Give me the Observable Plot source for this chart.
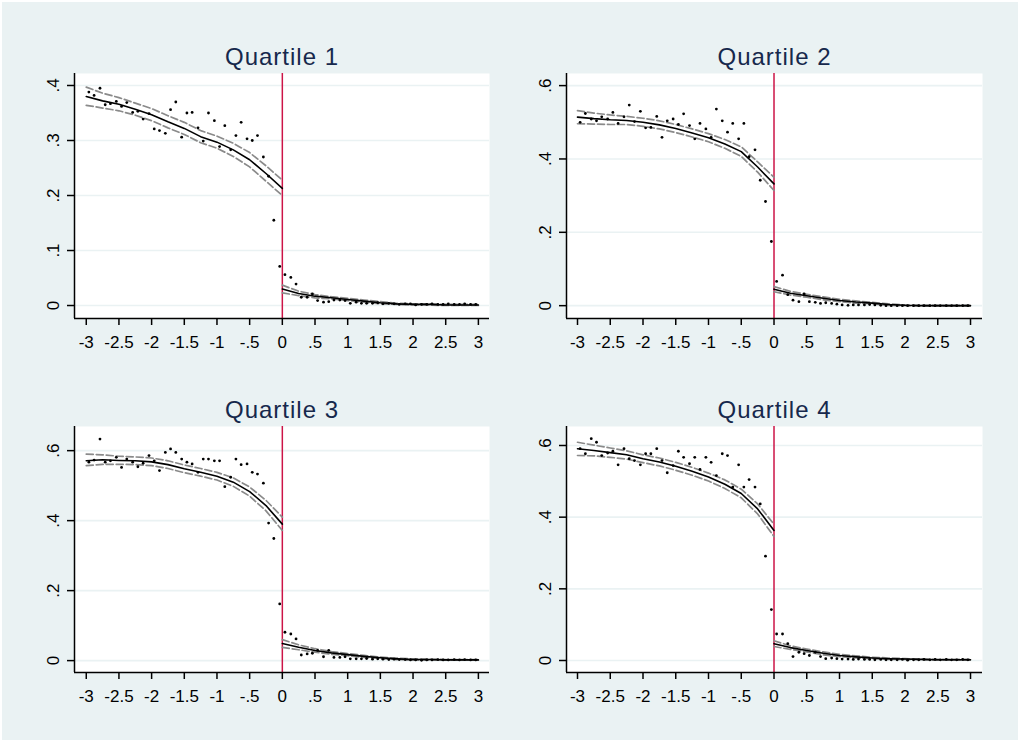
<!DOCTYPE html>
<html>
<head>
<meta charset="utf-8">
<script src="https://cdn.jsdelivr.net/npm/d3@7"></script>
<script src="https://cdn.jsdelivr.net/npm/@observablehq/plot@0.6"></script>
<style>
html, body { margin: 0; padding: 0; background: #ffffff; }
#page { position: relative; width: 1020px; height: 742px; background: #ffffff; overflow: hidden; }
#bg { position: absolute; left: 2px; top: 2px; right: 2px; bottom: 2px; background: #eaf2f3; }
.panel { position: absolute; }
</style>
</head>
<body>
<div id="page"><div id="bg"></div></div>
<script>
// ---------- data ----------
const titles = ["Quartile 1", "Quartile 2", "Quartile 3", "Quartile 4"];

const xTicks = [-3, -2.5, -2, -1.5, -1, -0.5, 0, 0.5, 1, 1.5, 2, 2.5, 3];
const xTickLabels = ["-3", "-2.5", "-2", "-1.5", "-1", "-.5", "0", ".5", "1", "1.5", "2", "2.5", "3"];

const yTicksQ1 = [0, 0.1, 0.2, 0.3, 0.4];
const yTickLabelsQ1 = ["0", ".1", ".2", ".3", ".4"];
const yTicksOther = [0, 0.2, 0.4, 0.6];
const yTickLabelsOther = ["0", ".2", ".4", ".6"];

// bin centres (scatter points)
const binsLeft = [-2.96, -2.88, -2.79, -2.71, -2.63, -2.54, -2.46, -2.38, -2.29, -2.21, -2.13, -2.04,
  -1.96, -1.88, -1.79, -1.71, -1.63, -1.54, -1.46, -1.38, -1.29, -1.21, -1.13, -1.04,
  -0.96, -0.88, -0.79, -0.71, -0.63, -0.54, -0.46, -0.38, -0.29, -0.21, -0.13, -0.04];
const binsRight = [0.04, 0.13, 0.21, 0.29, 0.38, 0.46, 0.54, 0.63, 0.71, 0.79, 0.88, 0.96,
  1.04, 1.13, 1.21, 1.29, 1.38, 1.46, 1.54, 1.63, 1.71, 1.79, 1.88, 1.96,
  2.04, 2.13, 2.21, 2.29, 2.38, 2.46, 2.54, 2.63, 2.71, 2.79, 2.88, 2.96];

const q1DotsL = [0.388, 0.382, 0.395, 0.365, 0.367, 0.371, 0.362, 0.369, 0.351, 0.353, 0.339, 0.349,
  0.321, 0.318, 0.313, 0.356, 0.370, 0.306, 0.350, 0.351, 0.323, 0.299, 0.350, 0.336,
  0.289, 0.327, 0.283, 0.309, 0.333, 0.303, 0.300, 0.309, 0.270, 0.235, 0.155, 0.071];
const q1DotsR = [0.056, 0.051, 0.039, 0.015, 0.015, 0.021, 0.009, 0.006, 0.007, 0.010, 0.010, 0.009,
  0.004, 0.006, 0.004, 0.004, 0.004, 0.005, 0.003, 0.004, 0.003, 0.002, 0.003, 0.003,
  0.001, 0.002, 0.002, 0.003, 0.002, 0.002, 0.003, 0.002, 0.002, 0.003, 0.002, 0.002];

const q2DotsL = [0.500, 0.524, 0.509, 0.504, 0.515, 0.509, 0.527, 0.497, 0.515, 0.547, 0.502, 0.530,
  0.485, 0.486, 0.516, 0.459, 0.504, 0.509, 0.494, 0.523, 0.491, 0.455, 0.497, 0.482,
  0.459, 0.536, 0.504, 0.473, 0.497, 0.455, 0.497, 0.406, 0.425, 0.342, 0.284, 0.175];
const q2DotsR = [0.066, 0.083, 0.030, 0.015, 0.011, 0.032, 0.011, 0.009, 0.006, 0.008, 0.006, 0.004,
  0.002, 0.001, 0.002, 0.002, 0.002, 0.003, 0.002, 0.001, 0.000, 0.000, 0.000, 0.000,
  0.000, 0.000, 0.000, 0.000, 0.000, 0.000, 0.000, 0.000, 0.000, 0.000, 0.000, 0.000];

const q3DotsL = [0.567, 0.573, 0.633, 0.567, 0.571, 0.581, 0.552, 0.576, 0.567, 0.554, 0.564, 0.586,
  0.571, 0.543, 0.595, 0.605, 0.595, 0.576, 0.567, 0.562, 0.538, 0.576, 0.576, 0.571,
  0.571, 0.497, 0.524, 0.576, 0.560, 0.562, 0.538, 0.533, 0.507, 0.393, 0.349, 0.162];
const q3DotsR = [0.081, 0.076, 0.062, 0.016, 0.019, 0.021, 0.029, 0.011, 0.029, 0.009, 0.009, 0.011,
  0.005, 0.005, 0.005, 0.006, 0.004, 0.005, 0.004, 0.003, 0.004, 0.003, 0.003, 0.002,
  0.002, 0.001, 0.002, 0.002, 0.003, 0.002, 0.002, 0.003, 0.002, 0.003, 0.002, 0.002];

const q4DotsL = [0.591, 0.577, 0.619, 0.609, 0.572, 0.579, 0.584, 0.546, 0.591, 0.563, 0.558, 0.546,
  0.577, 0.577, 0.591, 0.558, 0.524, 0.544, 0.584, 0.567, 0.549, 0.567, 0.533, 0.567,
  0.553, 0.516, 0.577, 0.572, 0.484, 0.546, 0.484, 0.505, 0.484, 0.437, 0.291, 0.142];
const q4DotsR = [0.074, 0.074, 0.047, 0.011, 0.023, 0.019, 0.014, 0.023, 0.011, 0.005, 0.007, 0.005,
  0.004, 0.004, 0.003, 0.004, 0.003, 0.003, 0.002, 0.003, 0.002, 0.002, 0.002, 0.003,
  0.001, 0.002, 0.002, 0.003, 0.002, 0.003, 0.002, 0.003, 0.002, 0.002, 0.003, 0.002];

// fitted local-polynomial lines and 95% bands
const gridLeft = [-3, -2.75, -2.5, -2.25, -2, -1.75, -1.5, -1.25, -1, -0.75, -0.5, -0.25, 0];
const gridRight = [0, 0.25, 0.5, 0.75, 1, 1.25, 1.5, 1.75, 2, 2.25, 2.5, 2.75, 3];

const q1FitL = [0.380, 0.372, 0.366, 0.357, 0.347, 0.334, 0.322, 0.307, 0.297, 0.283, 0.265, 0.240, 0.213];
const q1HiL  = [0.397, 0.386, 0.378, 0.368, 0.358, 0.345, 0.333, 0.318, 0.308, 0.295, 0.278, 0.254, 0.228];
const q1LoL  = [0.364, 0.359, 0.354, 0.346, 0.336, 0.323, 0.311, 0.296, 0.286, 0.271, 0.252, 0.226, 0.200];
const q1FitR = [0.030, 0.022, 0.017, 0.014, 0.011, 0.008, 0.005, 0.003, 0.002, 0.002, 0.001, 0.001, 0.001];
const q1HiR  = [0.037, 0.026, 0.020, 0.016, 0.013, 0.010, 0.007, 0.004, 0.003, 0.003, 0.002, 0.002, 0.002];
const q1LoR  = [0.023, 0.018, 0.014, 0.012, 0.009, 0.006, 0.003, 0.002, 0.001, 0.001, 0.000, 0.000, 0.000];

const q2FitL = [0.514, 0.510, 0.507, 0.505, 0.500, 0.493, 0.483, 0.471, 0.458, 0.441, 0.420, 0.378, 0.332];
const q2HiL  = [0.532, 0.525, 0.520, 0.516, 0.511, 0.504, 0.494, 0.482, 0.469, 0.453, 0.433, 0.392, 0.350];
const q2LoL  = [0.496, 0.495, 0.494, 0.494, 0.489, 0.482, 0.472, 0.460, 0.447, 0.429, 0.407, 0.364, 0.314];
const q2FitR = [0.045, 0.034, 0.027, 0.020, 0.014, 0.010, 0.007, 0.003, 0.001, 0.000, 0.000, 0.000, 0.000];
const q2HiR  = [0.052, 0.039, 0.031, 0.024, 0.017, 0.013, 0.009, 0.005, 0.002, 0.001, 0.001, 0.001, 0.001];
const q2LoR  = [0.038, 0.029, 0.023, 0.016, 0.011, 0.007, 0.005, 0.001, 0.000, -0.001, -0.001, -0.001, -0.001];

const q3FitL = [0.571, 0.574, 0.572, 0.571, 0.568, 0.560, 0.548, 0.538, 0.527, 0.510, 0.483, 0.443, 0.390];
const q3HiL  = [0.590, 0.588, 0.584, 0.582, 0.579, 0.571, 0.559, 0.549, 0.538, 0.522, 0.496, 0.458, 0.410];
const q3LoL  = [0.557, 0.561, 0.561, 0.560, 0.557, 0.549, 0.537, 0.527, 0.516, 0.498, 0.470, 0.428, 0.372];
const q3FitR = [0.049, 0.038, 0.029, 0.022, 0.017, 0.012, 0.008, 0.005, 0.003, 0.003, 0.002, 0.002, 0.002];
const q3HiR  = [0.060, 0.045, 0.034, 0.026, 0.020, 0.015, 0.010, 0.007, 0.005, 0.004, 0.003, 0.003, 0.003];
const q3LoR  = [0.038, 0.031, 0.024, 0.018, 0.014, 0.009, 0.006, 0.003, 0.001, 0.001, 0.001, 0.001, 0.001];

const q4FitL = [0.591, 0.586, 0.580, 0.574, 0.563, 0.554, 0.542, 0.528, 0.512, 0.492, 0.466, 0.423, 0.363];
const q4HiL  = [0.609, 0.601, 0.593, 0.585, 0.574, 0.565, 0.553, 0.539, 0.523, 0.504, 0.478, 0.437, 0.380];
const q4LoL  = [0.572, 0.571, 0.567, 0.562, 0.552, 0.543, 0.531, 0.517, 0.501, 0.480, 0.454, 0.409, 0.346];
const q4FitR = [0.047, 0.036, 0.028, 0.020, 0.014, 0.010, 0.007, 0.005, 0.004, 0.003, 0.002, 0.002, 0.002];
const q4HiR  = [0.055, 0.041, 0.032, 0.024, 0.017, 0.013, 0.009, 0.007, 0.005, 0.004, 0.003, 0.003, 0.003];
const q4LoR  = [0.039, 0.031, 0.024, 0.016, 0.011, 0.007, 0.005, 0.003, 0.003, 0.002, 0.001, 0.001, 0.001];

// ---------- drawing ----------
const FONT = "'Liberation Sans', Arial, Helvetica, sans-serif";
const RED = "#cc1447";
const GRAY = "#8a8a8a";
const GRID = "#eaf2f3";
const TITLE = "#16284c";

function series(xs, ys) { return xs.map((x, i) => ({x, y: ys[i]})); }

function panel(cfg) {
  const fmtX = d => xTickLabels[xTicks.indexOf(d)];
  const fmtY = d => cfg.yLabels[cfg.yTicks.indexOf(d)];
  const lineSets = [
    [gridLeft, cfg.fitL, cfg.hiL, cfg.loL],
    [gridRight, cfg.fitR, cfg.hiR, cfg.loR]
  ];
  const marks = [
    Plot.frame({fill: "white", stroke: null}),
    Plot.ruleY(cfg.yTicks, {y: d => d, stroke: GRID, strokeWidth: 1.6}),
    Plot.ruleX([0], {x: d => d, stroke: RED, strokeWidth: 1.5})
  ];
  for (const [g, fit, hi, lo] of lineSets) {
    marks.push(Plot.line(series(g, hi), {x: "x", y: "y", stroke: GRAY, strokeWidth: 1.7, strokeDasharray: "7,3", curve: "linear"}));
    marks.push(Plot.line(series(g, lo), {x: "x", y: "y", stroke: GRAY, strokeWidth: 1.7, strokeDasharray: "7,3", curve: "linear"}));
    marks.push(Plot.line(series(g, fit), {x: "x", y: "y", stroke: "black", strokeWidth: 1.6, curve: "linear"}));
  }
  marks.push(Plot.dot(series(binsLeft, cfg.dotsL), {x: "x", y: "y", r: 1.4, fill: "black", stroke: null}));
  marks.push(Plot.dot(series(binsRight, cfg.dotsR), {x: "x", y: "y", r: 1.4, fill: "black", stroke: null}));
  marks.push(Plot.ruleX([cfg.xDomain[0]], {x: d => d, stroke: "black", strokeWidth: 1.5}));
  marks.push(Plot.ruleY([cfg.yDomain[0]], {y: d => d, stroke: "black", strokeWidth: 1.5}));
  marks.push(Plot.axisX({ticks: xTicks, tickFormat: fmtX, tickSize: 7, tickPadding: 10, fontSize: 17, strokeWidth: 1.5, label: null, fill: "black"}));
  marks.push(Plot.axisY({ticks: cfg.yTicks, tickFormat: fmtY, tickSize: 7, tickPadding: 9, fontSize: 17, strokeWidth: 1.5, label: null,
    tickRotate: -90, textAnchor: "middle", lineAnchor: "bottom", fill: "black"}));
  marks.push(Plot.text([cfg.title], {text: d => d, frameAnchor: "top", dy: -9, lineAnchor: "bottom", fontSize: 24, fill: TITLE}));

  const svg = Plot.plot({
    width: 510,
    height: 330,
    marginLeft: 74,
    marginRight: cfg.marginRight,
    marginTop: 43,
    marginBottom: cfg.marginBottom,
    style: {background: "transparent", fontFamily: FONT, overflow: "visible", color: "black"},
    x: {domain: cfg.xDomain, label: null},
    y: {domain: cfg.yDomain, label: null},
    marks
  });
  d3.select(svg).selectAll("text").filter(function() { return titles.includes(this.textContent); })
    .style("letter-spacing", "1px");
  const wrap = document.createElement("div");
  wrap.className = "panel";
  wrap.style.left = cfg.left + "px";
  wrap.style.top = cfg.top + "px";
  wrap.appendChild(svg);
  document.getElementById("page").appendChild(wrap);
}

const panels = [
  {title: titles[0], left: 0, top: 30, marginRight: 21, marginBottom: 42,
   xDomain: [-3.18, 3.17], yDomain: [-0.0236, 0.4218], yTicks: yTicksQ1, yLabels: yTickLabelsQ1,
   dotsL: q1DotsL, dotsR: q1DotsR, fitL: q1FitL, hiL: q1HiL, loL: q1LoL, fitR: q1FitR, hiR: q1HiR, loR: q1LoR},
  {title: titles[1], left: 492, top: 30, marginRight: 20, marginBottom: 42,
   xDomain: [-3.168, 3.183], yDomain: [-0.035, 0.633], yTicks: yTicksOther, yLabels: yTickLabelsOther,
   dotsL: q2DotsL, dotsR: q2DotsR, fitL: q2FitL, hiL: q2HiL, loL: q2LoL, fitR: q2FitR, hiR: q2HiR, loR: q2LoR},
  {title: titles[2], left: 0, top: 383, marginRight: 21, marginBottom: 41,
   xDomain: [-3.18, 3.17], yDomain: [-0.034, 0.669], yTicks: yTicksOther, yLabels: yTickLabelsOther,
   dotsL: q3DotsL, dotsR: q3DotsR, fitL: q3FitL, hiL: q3HiL, loL: q3LoL, fitR: q3FitR, hiR: q3HiR, loR: q3LoR},
  {title: titles[3], left: 492, top: 383, marginRight: 20, marginBottom: 41,
   xDomain: [-3.168, 3.183], yDomain: [-0.0335, 0.653], yTicks: yTicksOther, yLabels: yTickLabelsOther,
   dotsL: q4DotsL, dotsR: q4DotsR, fitL: q4FitL, hiL: q4HiL, loL: q4LoL, fitR: q4FitR, hiR: q4HiR, loR: q4LoR}
];
panels.forEach(panel);
</script>
</body>
</html>
